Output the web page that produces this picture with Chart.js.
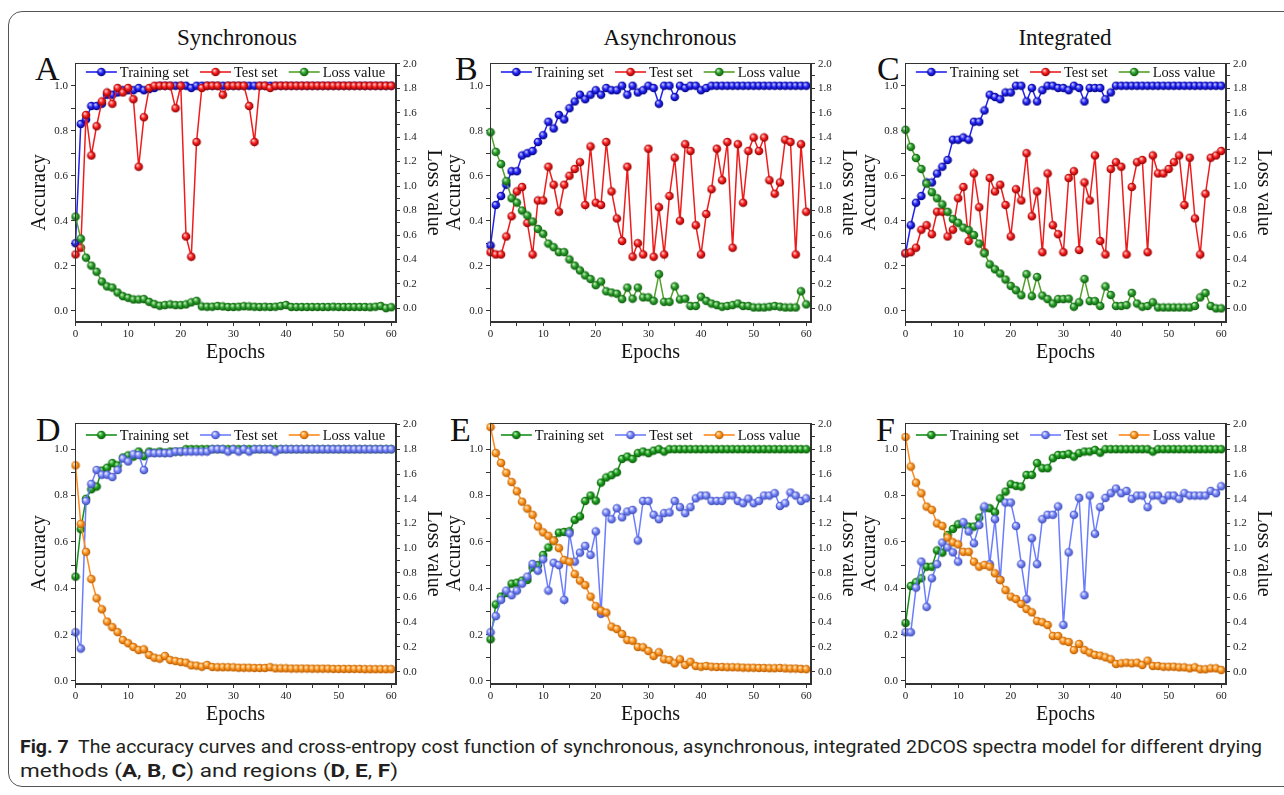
<!DOCTYPE html>
<html>
<head>
<meta charset="utf-8">
<script src="https://cdn.jsdelivr.net/npm/chart.js@4"></script>
<style>
  html, body { margin: 0; padding: 0; background: #fff; }
  #fig { position: relative; width: 1284px; height: 795px; overflow: hidden; background: #fff; }
  .frame { position: absolute; left: 8px; top: 11px; width: 1400px; height: 774px; border: 1.5px solid #555; border-radius: 14px; }
  .coltitle { position: absolute; width: 240px; text-align: center; font: 23px "Liberation Serif", serif; line-height: 1; color: #111; }
  .letter { position: absolute; font: 34px "Liberation Serif", serif; line-height: 1; color: #111; }
  .cap { position: absolute; left: 20px; white-space: nowrap; font: 19px "Liberation Sans Narrow", "Roboto", "Noto Sans", sans-serif; line-height: 22px; color: #231f20; transform-origin: 0 0; }
  canvas { position: absolute; }
</style>
</head>
<body>
<div id="fig">
  <div class="frame"></div>
  <div class="coltitle" style="left:117px;top:26px">Synchronous</div>
  <div class="coltitle" style="left:550px;top:26px">Asynchronous</div>
  <div class="coltitle" style="left:945px;top:26px">Integrated</div>
  <div class="letter" style="left:35px;top:52px">A</div>
  <div class="letter" style="left:455px;top:52px">B</div>
  <div class="letter" style="left:877px;top:52px">C</div>
  <div class="letter" style="left:36px;top:413px">D</div>
  <div class="letter" style="left:450px;top:413px">E</div>
  <div class="letter" style="left:876px;top:413px">F</div>
  <div class="cap" id="cap1" style="top:736px"><b>Fig. 7</b>&nbsp; The accuracy curves and cross-entropy cost function of synchronous, asynchronous, integrated 2DCOS spectra model for different drying</div>
  <div class="cap" id="cap2" style="top:760px">methods (<b>A</b>, <b>B</b>, <b>C</b>) and regions (<b>D</b>, <b>E</b>, <b>F</b>)</div>
</div>
<script>
const epochs = Array.from({ length: 61 }, (_, i) => i)
const xTicks = [0, 5, 10, 15, 20, 25, 30, 35, 40, 45, 50, 55, 60]
const accTicks = [0, 0.1, 0.2, 0.3, 0.4, 0.5, 0.6, 0.7, 0.8, 0.9, 1.0]
const lossTicks = [0, 0.1, 0.2, 0.3, 0.4, 0.5, 0.6, 0.7, 0.8, 0.9, 1.0, 1.1, 1.2, 1.3, 1.4, 1.5, 1.6, 1.7, 1.8, 1.9, 2.0]
const seriesNames = ['Training set', 'Test set', 'Loss value']

// A - synchronous
const trainA = [0.30,0.83,0.85,0.91,0.91,0.92,0.96,0.96,0.97,0.98,
  0.98,0.98,0.99,0.98,0.985,0.99,1,1,1,1,
  1,1,0.99,1,1,1,1,1,1,1,
  1,1,1,1,1,1,1,1,1,1,
  1,1,1,1,1,1,1,1,1,1,
  1,1,1,1,1,1,1,1,1,1,
  1]
const testA = [0.25,0.28,0.87,0.69,0.82,0.93,0.97,0.92,0.99,0.97,
  0.99,0.94,0.64,0.86,0.99,1,1,1,1,0.90,
  1,0.33,0.24,0.75,0.99,1,1,1,0.96,1,
  1,1,1,0.91,0.75,1,1,0.99,1,1,
  1,1,1,1,1,1,1,1,1,1,
  1,1,1,1,1,1,1,1,1,1,
  1]
const lossA = [0.75,0.57,0.415,0.35,0.30,0.22,0.18,0.17,0.13,0.10,
  0.087,0.073,0.073,0.076,0.054,0.035,0.022,0.027,0.033,0.027,
  0.027,0.033,0.049,0.062,0.016,0.014,0.014,0.02,0.016,0.012,
  0.012,0.014,0.018,0.016,0.014,0.012,0.014,0.012,0.014,0.02,
  0.028,0.012,0.012,0.012,0.012,0.012,0.012,0.012,0.012,0.014,
  0.012,0.012,0.012,0.012,0.012,0.012,0.01,0.014,0.02,0.002,
  0.01]

// B - asynchronous
const trainB = [0.29,0.47,0.51,0.56,0.62,0.62,0.69,0.70,0.71,0.75,
  0.78,0.84,0.81,0.87,0.85,0.90,0.93,0.96,0.94,0.96,
  0.98,0.96,0.99,0.98,0.98,1,0.96,1,0.97,0.98,
  1,0.99,0.92,1,1,0.95,1,0.99,1,1,
  0.98,0.99,1,1,1,1,1,1,1,1,
  1,1,1,1,1,1,1,1,1,1,
  1]
const testB = [0.26,0.25,0.25,0.33,0.42,0.53,0.55,0.39,0.25,0.49,
  0.49,0.64,0.56,0.44,0.56,0.60,0.63,0.66,0.47,0.73,
  0.48,0.47,0.75,0.53,0.41,0.31,0.64,0.24,0.30,0.25,
  0.72,0.24,0.46,0.25,0.51,0.68,0.40,0.74,0.71,0.38,
  0.25,0.43,0.54,0.72,0.58,0.75,0.28,0.74,0.48,0.71,
  0.77,0.71,0.77,0.58,0.52,0.57,0.76,0.75,0.25,0.74,
  0.44]
const lossB = [1.44,1.28,1.18,1.04,0.90,0.865,0.80,0.76,0.71,0.65,
  0.61,0.53,0.50,0.46,0.46,0.40,0.35,0.31,0.27,0.24,
  0.19,0.22,0.14,0.13,0.12,0.076,0.17,0.08,0.17,0.09,
  0.09,0.062,0.28,0.054,0.054,0.18,0.073,0.08,0.02,0.02,
  0.095,0.062,0.04,0.027,0.014,0.02,0.027,0.04,0.02,0.02,
  0.008,0.008,0.008,0.014,0.02,0.014,0.008,0.008,0.008,0.14,
  0.033]

// C - integrated
const trainC = [0.255,0.38,0.48,0.51,0.57,0.57,0.61,0.64,0.67,0.76,
  0.76,0.77,0.76,0.84,0.84,0.89,0.96,0.95,0.94,0.97,
  0.97,1,1,0.93,0.99,0.93,0.98,1,1,0.99,
  0.99,0.98,1,0.99,0.93,0.99,0.99,0.99,0.94,0.97,
  1,1,1,1,1,1,1,1,1,1,
  1,1,1,1,1,1,1,1,1,1,
  1]
const testC = [0.255,0.26,0.28,0.36,0.38,0.34,0.44,0.44,0.33,0.36,
  0.50,0.55,0.31,0.61,0.46,0.26,0.59,0.53,0.56,0.47,
  0.33,0.54,0.49,0.70,0.42,0.53,0.26,0.61,0.38,0.34,
  0.26,0.59,0.62,0.27,0.57,0.49,0.69,0.31,0.25,0.63,
  0.66,0.64,0.25,0.55,0.66,0.67,0.26,0.69,0.61,0.61,
  0.63,0.66,0.69,0.47,0.68,0.41,0.25,0.52,0.68,0.69,
  0.71]
const lossC = [1.46,1.32,1.23,1.14,1.02,0.95,0.90,0.85,0.79,0.73,
  0.70,0.66,0.64,0.60,0.53,0.45,0.36,0.32,0.285,0.236,
  0.184,0.149,0.108,0.28,0.10,0.257,0.105,0.076,0.04,0.076,
  0.076,0.08,0.014,0.05,0.24,0.06,0.06,0.02,0.18,0.11,
  0.02,0.02,0.027,0.127,0.04,0.014,0.02,0.05,0.008,0.008,
  0.008,0.008,0.008,0.008,0.008,0.02,0.09,0.127,0.02,0.0,
  0.0]

// D
const trainD = [0.45,0.655,0.786,0.827,0.839,0.908,0.92,0.94,0.93,0.964,
  0.973,0.968,0.99,0.97,0.99,0.985,0.99,0.985,0.99,0.99,
  0.99,1,1,1,1,1,1,1,1,1,
  1,1,1,1,1,1,1,1,1,1,
  1,1,1,1,1,1,1,1,1,1,
  1,1,1,1,1,1,1,1,1,1,
  1]
const testD = [0.21,0.14,0.777,0.85,0.91,0.89,0.89,0.88,0.91,0.96,
  0.947,0.978,0.975,0.91,0.983,0.983,0.983,0.983,0.983,0.99,
  0.99,0.99,0.99,0.99,0.99,0.99,1,1,1,0.99,
  1,0.99,1,0.99,1,1,1,1,0.99,1,
  1,1,1,1,1,1,1,1,1,1,
  1,1,1,1,1,1,1,1,1,1,
  1]
const lossD = [1.67,1.196,0.97,0.75,0.594,0.505,0.405,0.36,0.32,0.256,
  0.23,0.20,0.175,0.18,0.135,0.113,0.105,0.127,0.094,0.086,
  0.078,0.073,0.051,0.049,0.04,0.054,0.038,0.036,0.036,0.036,
  0.035,0.032,0.032,0.032,0.03,0.03,0.03,0.036,0.027,0.027,
  0.027,0.025,0.025,0.025,0.025,0.024,0.024,0.024,0.024,0.022,
  0.022,0.022,0.022,0.022,0.022,0.02,0.02,0.02,0.02,0.02,
  0.02]

// E
const trainE = [0.18,0.33,0.364,0.38,0.42,0.424,0.433,0.436,0.49,0.50,
  0.544,0.576,0.606,0.64,0.643,0.646,0.695,0.71,0.777,0.80,
  0.778,0.856,0.878,0.888,0.90,0.958,0.968,0.958,0.983,0.99,
  0.983,0.994,1,0.99,1,1,1,1,1,1,
  1,1,1,1,1,1,1,1,1,1,
  1,1,1,1,1,1,1,1,1,1,
  1]
const testE = [0.21,0.28,0.35,0.39,0.37,0.39,0.42,0.45,0.505,0.476,
  0.525,0.39,0.51,0.50,0.35,0.637,0.515,0.554,0.583,0.544,
  0.645,0.29,0.727,0.698,0.745,0.706,0.731,0.738,0.606,0.777,
  0.777,0.717,0.698,0.724,0.727,0.777,0.75,0.724,0.75,0.788,
  0.80,0.80,0.777,0.777,0.777,0.80,0.80,0.777,0.767,0.787,
  0.767,0.777,0.80,0.80,0.81,0.755,0.767,0.813,0.80,0.777,
  0.788]
const lossE = [1.98,1.77,1.69,1.61,1.535,1.46,1.376,1.32,1.27,1.175,
  1.128,1.10,1.06,1.0,0.904,0.89,0.79,0.737,0.70,0.607,
  0.53,0.494,0.478,0.364,0.345,0.305,0.256,0.25,0.20,0.197,
  0.167,0.127,0.157,0.10,0.094,0.067,0.10,0.054,0.08,0.046,
  0.04,0.046,0.04,0.038,0.038,0.036,0.036,0.035,0.033,0.032,
  0.032,0.03,0.03,0.028,0.028,0.03,0.026,0.025,0.025,0.022,
  0.02]

// F
const trainF = [0.25,0.41,0.426,0.443,0.493,0.493,0.563,0.554,0.63,0.656,
  0.676,0.676,0.666,0.666,0.705,0.745,0.745,0.728,0.788,0.817,
  0.849,0.842,0.839,0.889,0.889,0.94,0.918,0.918,0.961,0.975,
  0.975,0.98,0.968,0.983,0.99,0.99,0.997,0.985,1,1,
  1,1,1,1,1,1,1,0.99,1,1,
  1,1,1,1,1,1,1,1,1,1,
  1]
const testF = [0.21,0.21,0.403,0.515,0.32,0.443,0.504,0.597,0.576,0.555,
  0.515,0.685,0.645,0.594,0.673,0.753,0.504,0.698,0.436,0.77,
  0.77,0.669,0.504,0.353,0.616,0.504,0.698,0.717,0.717,0.753,
  0.242,0.555,0.717,0.79,0.37,0.80,0.635,0.75,0.79,0.81,
  0.83,0.81,0.82,0.786,0.80,0.80,0.75,0.80,0.80,0.78,
  0.80,0.80,0.786,0.81,0.80,0.80,0.80,0.80,0.82,0.81,
  0.84]
const lossF = [1.90,1.66,1.53,1.444,1.336,1.31,1.20,1.18,1.085,1.047,
  1.03,0.97,0.97,0.89,0.85,0.864,0.85,0.796,0.742,0.66,
  0.607,0.588,0.548,0.507,0.48,0.41,0.40,0.378,0.289,0.289,
  0.25,0.24,0.175,0.224,0.175,0.154,0.135,0.13,0.116,0.10,
  0.062,0.067,0.073,0.067,0.073,0.054,0.089,0.046,0.046,0.04,
  0.04,0.04,0.035,0.035,0.027,0.035,0.019,0.019,0.027,0.027,
  0.013]

Chart.defaults.font.family = '"Liberation Serif", "Times New Roman", serif'
Chart.defaults.color = '#222'

// shaded ball used as point marker
function ball(mid, light, dark) {
  const r = 4.3
  const c = document.createElement('canvas')
  c.width = c.height = 10
  const g = c.getContext('2d')
  const grad = g.createRadialGradient(3.6, 3.4, 0.4, 5, 5, r)
  grad.addColorStop(0, light)
  grad.addColorStop(0.45, mid)
  grad.addColorStop(1, dark)
  g.fillStyle = grad
  g.beginPath(); g.arc(5, 5, r, 0, Math.PI * 2); g.fill()
  return c
}

const topColors = [
  { line: '#2222ee', img: ball('#2a2aff', '#c8ccff', '#00007a') },
  { line: '#ee1c1c', img: ball('#ff2222', '#ffd0d0', '#8a0000') },
  { line: '#52a02a', img: ball('#2da02d', '#c8f0c0', '#0c5a0c') },
]
const bottomColors = [
  { line: '#15901a', img: ball('#1fa01f', '#c0f0c0', '#0a5a0a') },
  { line: '#6b7dff', img: ball('#7d8cff', '#eef0ff', '#3a48b0') },
  { line: '#ff8a1c', img: ball('#ff9a26', '#ffe6c0', '#b85a00') },
]

const framePlugin = {
  id: 'frameBox',
  afterDraw(chart) {
    const { ctx, chartArea: a } = chart
    ctx.save()
    ctx.strokeStyle = '#333'
    ctx.lineWidth = 1
    ctx.strokeRect(Math.round(a.left) + 0.5, Math.round(a.top) + 0.5, Math.round(a.right - a.left) - 1, Math.round(a.bottom - a.top) - 1)
    ctx.restore()
  }
}

const legendPlugin = {
  id: 'insideLegend',
  afterDatasetsDraw(chart, args, opts) {
    const { ctx, chartArea: a } = chart
    const sets = chart.data.datasets
    ctx.save()
    ctx.font = '14.5px "Liberation Serif", serif'
    const symW = 31, gap = 3, sep = 11
    const widths = sets.map(d => ctx.measureText(d.label).width)
    const total = widths.reduce((s, w) => s + symW + gap + w, 0) + sep * (sets.length - 1)
    let x = (a.left + a.right) / 2 - total / 2
    const y = a.top + opts.dy
    sets.forEach((d, i) => {
      ctx.strokeStyle = d.borderColor
      ctx.lineWidth = 1.6
      ctx.beginPath(); ctx.moveTo(x, y); ctx.lineTo(x + symW, y); ctx.stroke()
      const img = d.pointStyle
      ctx.drawImage(img, x + symW / 2 - img.width / 2, y - img.height / 2)
      ctx.fillStyle = '#111'
      ctx.textBaseline = 'middle'
      ctx.fillText(d.label, x + symW + gap, y + 1)
      x += symW + gap + widths[i] + sep
    })
    ctx.restore()
  }
}

const panels = [
  { left: 75, top: 63, h: 259, data: [trainA, testA, lossA], colors: topColors, acc: [-0.05, 1.101], loss: [-0.111, 2.006], dy: 9 },
  { left: 490, top: 63, h: 259, data: [trainB, testB, lossB], colors: topColors, acc: [-0.05, 1.101], loss: [-0.111, 2.006], dy: 9 },
  { left: 905, top: 63, h: 259, data: [trainC, testC, lossC], colors: topColors, acc: [-0.05, 1.101], loss: [-0.111, 2.006], dy: 9 },
  { left: 75, top: 423, h: 261, data: [trainD, testD, lossD], colors: bottomColors, acc: [-0.013, 1.113], loss: [-0.1, 2.013], dy: 12 },
  { left: 490, top: 423, h: 261, data: [trainE, testE, lossE], colors: bottomColors, acc: [-0.013, 1.113], loss: [-0.1, 2.013], dy: 12 },
  { left: 905, top: 423, h: 261, data: [trainF, testF, lossF], colors: bottomColors, acc: [-0.013, 1.113], loss: [-0.1, 2.013], dy: 12 },
]

const padTop = 13, leftW = 55, rightW = 54, bottomH = 46, plotW = 321

panels.forEach(p => {
  const cv = document.createElement('canvas')
  cv.width = leftW + plotW + rightW
  cv.height = padTop + p.h + bottomH
  cv.style.left = (p.left - leftW) + 'px'
  cv.style.top = (p.top - padTop) + 'px'
  document.getElementById('fig').appendChild(cv)

  const datasets = p.data.map((vals, i) => ({
    label: seriesNames[i],
    data: vals.map((v, k) => ({ x: epochs[k], y: v })),
    yAxisID: i === 2 ? 'y1' : 'y',
    order: 2 - i,
    borderColor: p.colors[i].line,
    backgroundColor: p.colors[i].line,
    borderWidth: 1.5,
    pointStyle: p.colors[i].img,
    pointRadius: 4,
    tension: 0,
    clip: false,
  }))

  const tickFont = { size: 11 }
  const titleFont = { size: 20 }
  new Chart(cv, {
    type: 'line',
    data: { datasets },
    options: {
      responsive: false,
      animation: false,
      devicePixelRatio: 1,
      layout: { padding: { top: padTop, left: 0, right: 0, bottom: 0 } },
      plugins: { legend: { display: false }, tooltip: { enabled: false }, insideLegend: { dy: p.dy } },
      scales: {
        x: {
          type: 'linear', min: -0.1, max: 60.9,
          afterBuildTicks: s => { s.ticks = xTicks.map(v => ({ value: v })) },
          afterFit: s => { s.height = bottomH },
          ticks: { callback: v => (v % 10 === 0 ? String(v) : ''), autoSkip: false, maxRotation: 0, padding: 2, color: '#222', font: tickFont },
          grid: { drawOnChartArea: false, tickLength: 4, color: '#333' },
          border: { color: '#333' },
          title: { display: true, text: 'Epochs', font: titleFont, color: '#111', padding: { top: 4, bottom: 3 } },
        },
        y: {
          position: 'left', min: p.acc[0], max: p.acc[1],
          afterBuildTicks: s => { s.ticks = accTicks.map(v => ({ value: v })) },
          afterFit: s => { s.width = leftW },
          ticks: { callback: v => (Math.round(v * 10) % 2 === 0 ? v.toFixed(1) : ''), autoSkip: false, padding: 3, color: '#222', font: tickFont },
          grid: { drawOnChartArea: false, tickLength: 4, color: '#333' },
          border: { color: '#333' },
          title: { display: true, text: 'Accuracy', font: titleFont, color: '#111', padding: { top: 8, bottom: 8 } },
        },
        y1: {
          position: 'right', min: p.loss[0], max: p.loss[1],
          afterBuildTicks: s => { s.ticks = lossTicks.map(v => ({ value: v })) },
          afterFit: s => { s.width = rightW },
          ticks: { callback: v => (Math.round(v * 10) % 2 === 0 ? v.toFixed(1) : ''), autoSkip: false, padding: 3, color: '#222', font: tickFont },
          grid: { drawOnChartArea: false, tickLength: 4, color: '#333' },
          border: { color: '#333' },
          title: { display: true, text: 'Loss value', font: titleFont, color: '#111', padding: { top: 5, bottom: 5 } },
        },
      },
    },
    plugins: [framePlugin, legendPlugin],
  })
})

// stretch caption lines to the measured widths of the original
function fitLine(id, target) {
  const el = document.getElementById(id)
  const w = el.getBoundingClientRect().width
  el.style.transform = 'scaleX(' + (target / w) + ')'
}
fitLine('cap1', 1242)
fitLine('cap2', 378)
</script>
</body>
</html>
